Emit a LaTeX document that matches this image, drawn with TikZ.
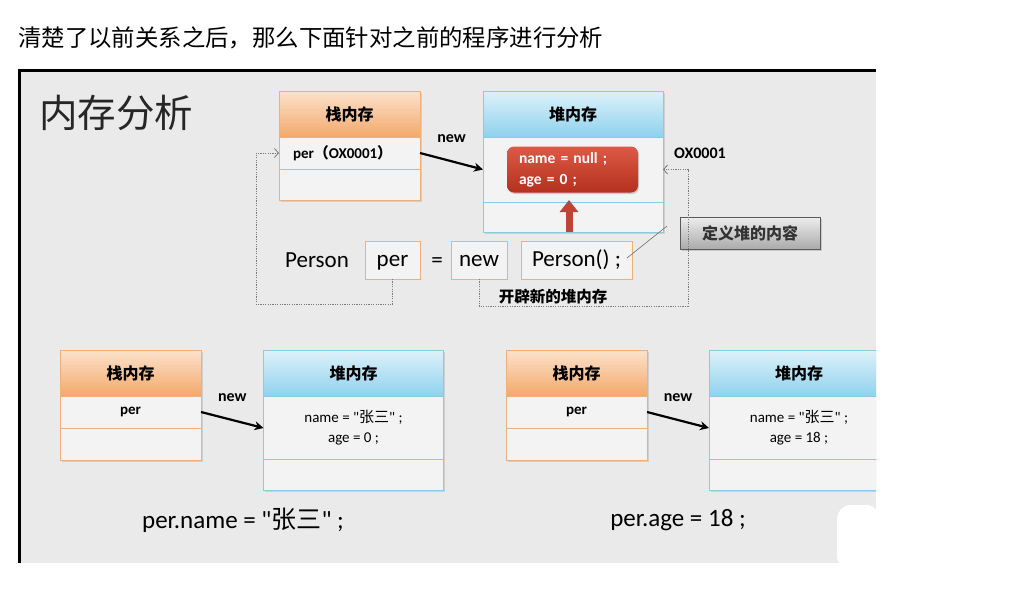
\documentclass[tikz,border=0pt]{standalone}
\usepackage{fontspec}
\setmainfont{Carlito}[Ligatures=TeXOff]
\newfontfamily\cjk{Noto Sans CJK SC}
\usetikzlibrary{positioning,arrows.meta,shadows}

\definecolor{slidebg}{HTML}{EAEAEA}
\definecolor{boxbg}{HTML}{F3F3F3}
\definecolor{stackline}{HTML}{F0B07C}
\definecolor{stacktop}{HTML}{FCE2CC}
\definecolor{stackbot}{HTML}{F3A96B}
\definecolor{heapline}{HTML}{88CBE3}
\definecolor{heaptop}{HTML}{DDF1F9}
\definecolor{heapbot}{HTML}{8ED2EE}
\definecolor{objtop}{HTML}{DC5A45}
\definecolor{objbot}{HTML}{B5301F}
\definecolor{dotgray}{HTML}{7A7A7A}

\newcommand{\fsz}[1]{\fontsize{#1}{#1}\selectfont}

\tikzset{
  memshadow/.style={drop shadow={shadow xshift=1.5pt,shadow yshift=-1.5pt,opacity=0.25}},
  stackhead/.style={draw=stackline, top color=stacktop, bottom color=stackbot, minimum width=141, minimum height=46, inner sep=0, outer sep=0, font=\cjk\bfseries\fsz{16}, memshadow},
  stackrow/.style={draw=stackline, fill=boxbg, minimum width=141, minimum height=32, inner sep=0, outer sep=0, font=\bfseries\fsz{15}, memshadow},
  heaphead/.style={draw=heapline, top color=heaptop, bottom color=heapbot, minimum width=180, minimum height=46, inner sep=0, outer sep=0, font=\cjk\bfseries\fsz{16}, memshadow},
  heaprow/.style={draw=heapline, fill=boxbg, minimum width=180, minimum height=30, inner sep=0, outer sep=0, font=\fontsize{15}{20}\selectfont, align=center, memshadow},
  objbox/.style={rounded corners=7, top color=objtop, bottom color=objbot, text=white, font=\bfseries\fontsize{15.5}{21}\selectfont, align=left, text width=107, inner xsep=12, inner ysep=0, minimum height=46, drop shadow={shadow xshift=1pt,shadow yshift=-1.5pt,opacity=0.35}},
  codebox/.style={draw=stackline, fill=boxbg, font=\fsz{23}, text height=18, text depth=5, inner xsep=0, inner ysep=7.5, outer sep=0},
  codetext/.style={font=\fsz{23}, anchor=base},
  newarrow/.style={line width=2.2, -{Stealth[length=9pt,width=9pt]}},
  newlabel/.style={font=\bfseries\fsz{16}},
  dotline/.style={dotgray, line width=0.8, dash pattern=on 1.2pt off 1.2pt, -{Straight Barb[length=4pt,width=9pt]}},
  uparrow/.style={draw=objbot!90!white, line width=7, -{Triangle[length=12pt,width=18pt]}},
  notebox/.style={draw=black!65, top color=black!7, bottom color=black!33, minimum width=140, minimum height=32, font=\cjk\bfseries\fsz{16}, text=black!80, drop shadow={shadow xshift=1.5pt,shadow yshift=-1.5pt,opacity=0.3}}
}

\begin{document}
\begin{tikzpicture}[x=1pt,y=-1pt]
\useasboundingbox (0,0) rectangle (1032,595);
\fill[white] (0,0) rectangle (1032,595);

\node[anchor=west, inner sep=0, font=\cjk\fsz{23.4}] (intro) at (18,38) {清楚了以前关系之后，那么下面针对之前的程序进行分析};

\begin{scope}
  \clip (18,69) rectangle (876,563);
  \fill[slidebg] (18,69) rectangle (876,563);

  \node[anchor=west, inner sep=0, font=\cjk\fsz{38.5}, text=black!85] (title) at (39,113) {内存分析};

  % prima riga: Person per = new Person()
  \node[stackhead] (s1) at (349.5,114) {栈内存};
  \node[stackrow, below=0pt of s1, text width=113, align=left] (s1a) {per{\cjk （}OX0001{\cjk ）}};
  \node[stackrow, below=0pt of s1a, minimum height=31] (s1b) {};

  \node[heaphead] (h1) at (573,114) {堆内存};
  \node[heaprow, below=0pt of h1, minimum height=65] (h1a) {};
  \node[heaprow, below=0pt of h1a] (h1b) {};
  \node[objbox] (obj) at ([xshift=-0.5pt]h1a.center) {name = null ;\\age = 0 ;};

  \draw[newarrow] (s1a.east) -- node[newlabel, above=14pt] (new1) {new} (h1a.west);
  \node[newlabel] (addr) at (700,153) {OX0001};
  \draw[uparrow] ([xshift=-4pt]h1b.south) -- ([xshift=-4pt,yshift=2pt]h1b.north);

  \node[codetext] (cls) at (317,267) {Person};
  \node[codebox, minimum width=55] (pvar) at (392.5,260) {per};
  \node[codetext] (eq) at (437,267) {=};
  \node[codebox, minimum width=56] (pnew) at (479,260) {new};
  \node[codebox, minimum width=111] (pcall) at (576.5,260) {Person() ;};

  \node[notebox] (note) at (750,233) {定义堆的内容};
  \coordinate (ntip) at (667,226);
  \draw[black!55, line width=0.6] ([xshift=-5pt,yshift=2pt]pcall.east) -- (ntip);

  % collegamenti tratteggiati
  \coordinate (d1) at (256,304);
  \coordinate (d2) at (688,306);
  \draw[dotline] (pvar.south) |- (d1) |- (s1a.west);
  \draw[dotline] (pnew.south) |- (d2) |- (h1a.east);
  \node[font=\cjk\bfseries\fsz{15.5}] (newheap) at (553,297) {开辟新的堆内存};

  % per.name
  \node[stackhead] (s2) at (130.5,373) {栈内存};
  \node[stackrow, below=0pt of s2] (s2a) {per};
  \node[stackrow, below=0pt of s2a] (s2b) {};

  \node[heaphead] (h2) at (353.5,373.5) {堆内存};
  \node[heaprow, below=0pt of h2, minimum height=63] (h2a) {name = "{\cjk 张三}" ;\\age = 0 ;};
  \node[heaprow, below=0pt of h2a, minimum height=31] (h2b) {};

  \draw[newarrow] (s2a.east) -- node[newlabel, above=14pt] (new2) {new} (h2a.west);
  \node[font=\fsz{25}] (stmt1) at (243,520) {per.name = "{\cjk 张三}" ;};

  % per.age
  \node[stackhead] (s3) at (576.5,373) {栈内存};
  \node[stackrow, below=0pt of s3] (s3a) {per};
  \node[stackrow, below=0pt of s3a] (s3b) {};

  \node[heaphead] (h3) at (799,373.5) {堆内存};
  \node[heaprow, below=0pt of h3, minimum height=63] (h3a) {name = "{\cjk 张三}" ;\\age = 18 ;};
  \node[heaprow, below=0pt of h3a, minimum height=31] (h3b) {};

  \draw[newarrow] (s3a.east) -- node[newlabel, above=14pt] (new3) {new} (h3a.west);
  \node[font=\fsz{25}] (stmt2) at (678,520) {per.age = 18 ;};

  \fill[white, rounded corners=14] (837,570) -- (837,505) -- (880,505) -- (880,570) -- cycle;
\end{scope}

\draw[line width=2.5] (19.25,563) -- (19.25,70.25) -- (876,70.25);
\end{tikzpicture}
\end{document}
